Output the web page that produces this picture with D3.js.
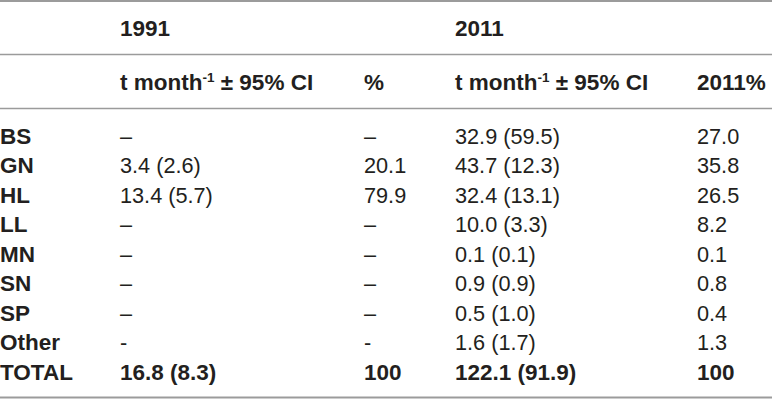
<!DOCTYPE html>
<html>
<head>
<meta charset="utf-8">
<script src="https://cdn.jsdelivr.net/npm/d3@7"></script>
<style>
  html, body { margin: 0; padding: 0; background: #fff; }
  svg text { font-family: "Helvetica Neue", Helvetica, Arial, "Liberation Sans", sans-serif; fill: #231f20; }
</style>
</head>
<body>
<svg id="table"></svg>
<script>
// table content
const groups = ["BS", "GN", "HL", "LL", "MN", "SN", "SP", "Other", "TOTAL"];
const yearHeaders = ["1991", "", "2011", ""];
const subHeaders = ["t month", "%", "t month", "2011%"];
const catch1991 = ["–", "3.4 (2.6)", "13.4 (5.7)", "–", "–", "–", "–", "-", "16.8 (8.3)"];
const pct1991 = ["–", "20.1", "79.9", "–", "–", "–", "–", "-", "100"];
const catch2011 = ["32.9 (59.5)", "43.7 (12.3)", "32.4 (13.1)", "10.0 (3.3)", "0.1 (0.1)", "0.9 (0.9)", "0.5 (1.0)", "1.6 (1.7)", "122.1 (91.9)"];
const pct2011 = ["27.0", "35.8", "26.5", "8.2", "0.1", "0.8", "0.4", "1.3", "100"];

const width = 772, height = 403;
const boldSize = 22.5;
const plainSize = 21.7;
const lineColor = "#9b9b9b";

const svg = d3.select("#table").attr("width", width).attr("height", height);

const columns = ["label", "c1991", "p1991", "c2011", "p2011"];
const x = d3.scaleOrdinal().domain(columns).range([0, 120, 364, 455, 697]);

const y = d3.scaleBand().domain(groups).range([121.25, 386.75]);
const headerY = d3.scalePoint().domain(["year", "unit"]).range([28, 82]);

// horizontal rules
const rules = [
  { y: 1, w: 2 },
  { y: 54.5, w: 1.5 },
  { y: 108.5, w: 1.5 },
  { y: 397.5, w: 2 },
];
svg.selectAll("line.rule")
  .data(rules)
  .join("line")
  .attr("class", "rule")
  .attr("x1", 0)
  .attr("x2", width)
  .attr("y1", (d) => d.y)
  .attr("y2", (d) => d.y)
  .attr("stroke", lineColor)
  .attr("stroke-width", (d) => d.w);

// header rows
const dataCols = columns.slice(1);
svg.selectAll("text.year")
  .data(yearHeaders)
  .join("text")
  .attr("class", "year")
  .attr("x", (d, i) => x(dataCols[i]))
  .attr("y", headerY("year"))
  .attr("dy", "0.35em")
  .style("font-size", `${boldSize}px`)
  .style("font-weight", "bold")
  .text((d) => d);

const unit = svg.selectAll("text.unit")
  .data(subHeaders)
  .join("text")
  .attr("class", "unit")
  .attr("x", (d, i) => x(dataCols[i]))
  .attr("y", headerY("unit"))
  .attr("dy", "0.35em")
  .style("font-size", `${boldSize}px`)
  .style("font-weight", "bold");

unit.append("tspan").text((d) => d);
unit.filter((d) => d === "t month")
  .call((t) => {
    t.append("tspan")
      .attr("dy", -8)
      .style("font-size", `${boldSize * 0.6}px`)
      .text("-1");
    t.append("tspan")
      .attr("dy", 8)
      .text(" ± 95% CI");
  });

// body rows
const rows = groups.map((g, i) => ({
  group: g,
  total: g === "TOTAL",
  cells: [g, catch1991[i], pct1991[i], catch2011[i], pct2011[i]],
}));

const row = svg.selectAll("g.row")
  .data(rows)
  .join("g")
  .attr("class", "row")
  .attr("transform", (d) => `translate(0, ${y(d.group) + y.bandwidth() / 2})`);

row.selectAll("text")
  .data((d) => d.cells.map((v, j) => ({ v, col: columns[j], bold: j === 0 || d.total })))
  .join("text")
  .attr("x", (d) => x(d.col))
  .attr("dy", "0.35em")
  .style("font-size", (d) => `${d.bold ? boldSize : plainSize}px`)
  .style("font-weight", (d) => (d.bold ? "bold" : "normal"))
  .text((d) => d.v);
</script>
</body>
</html>
